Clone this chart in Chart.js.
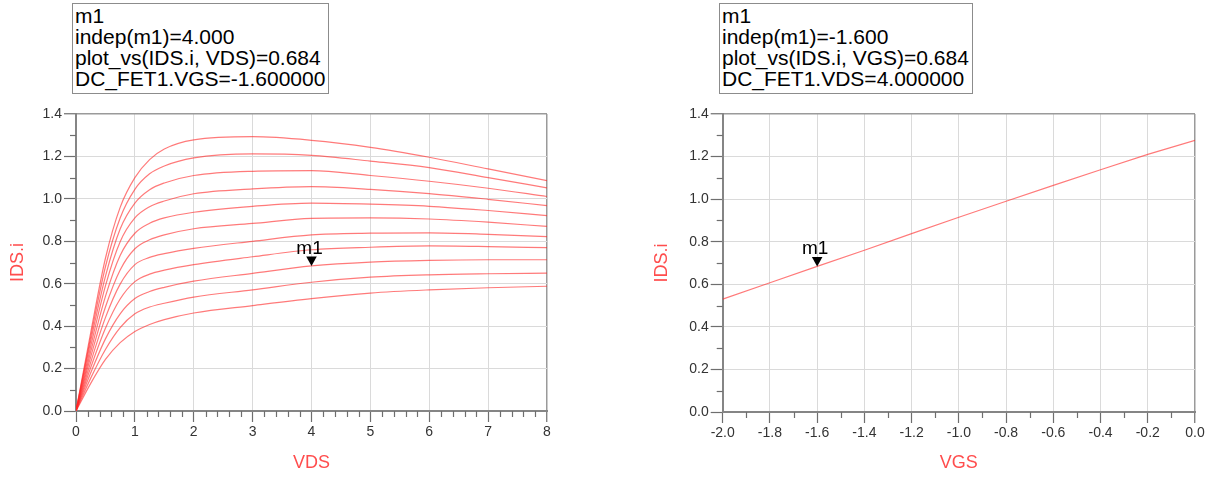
<!DOCTYPE html>
<html><head><meta charset="utf-8">
<script src="https://cdn.jsdelivr.net/npm/chart.js@4.4.0/dist/chart.umd.min.js"></script>
<style>
html,body{margin:0;padding:0;background:#fff;width:1207px;height:477px;overflow:hidden;}
.wrap{position:absolute;top:0;height:477px;}
#w1{left:0;width:600px;} #w2{left:600px;width:607px;}
.readout{position:absolute;top:3px;border:1px solid #8c8c8c;background:#fff;font:21px/21px "Liberation Sans",Arial,sans-serif;color:#000;padding:1px 3px 4px 2px;white-space:pre;z-index:2;}
</style></head>
<body>
<div class="wrap" id="w1"><canvas id="c1" width="600" height="477"></canvas></div>
<div class="wrap" id="w2"><canvas id="c2" width="607" height="477"></canvas></div>
<div class="readout" id="r1" style="left:72px"></div>
<div class="readout" id="r2" style="left:719px"></div>
<script>
// ---------- data ----------
const VDS = [0, 0.25, 0.5, 0.75, 1, 1.25, 1.5, 2, 3, 4, 5, 6, 7, 8];
const VGS_LIST = [-2.0, -1.8, -1.6, -1.4, -1.2, -1.0, -0.8, -0.6, -0.4, -0.2, 0.0];
const IDS_VGS_m2_0 = [0, 0.130, 0.243, 0.322, 0.375, 0.408, 0.431, 0.462, 0.497, 0.530, 0.556, 0.571, 0.581, 0.588];
const IDS_VGS_m1_8 = [0, 0.155, 0.290, 0.393, 0.458, 0.490, 0.508, 0.537, 0.571, 0.607, 0.631, 0.642, 0.647, 0.650];
const IDS_VGS_m1_6 = [0, 0.180, 0.340, 0.458, 0.530, 0.563, 0.583, 0.612, 0.649, 0.684, 0.702, 0.710, 0.713, 0.713];
const IDS_VGS_m1_4 = [0, 0.205, 0.390, 0.528, 0.610, 0.645, 0.664, 0.690, 0.727, 0.760, 0.772, 0.778, 0.775, 0.770];
const IDS_VGS_m1_2 = [0, 0.230, 0.440, 0.598, 0.690, 0.724, 0.742, 0.767, 0.800, 0.830, 0.838, 0.840, 0.833, 0.822];
const IDS_VGS_m1_0 = [0, 0.255, 0.490, 0.665, 0.765, 0.807, 0.830, 0.859, 0.884, 0.908, 0.910, 0.905, 0.890, 0.870];
const IDS_VGS_m0_8 = [0, 0.280, 0.540, 0.733, 0.838, 0.885, 0.910, 0.937, 0.965, 0.980, 0.975, 0.965, 0.945, 0.921];
const IDS_VGS_m0_6 = [0, 0.305, 0.590, 0.798, 0.910, 0.963, 0.990, 1.024, 1.047, 1.058, 1.045, 1.025, 0.998, 0.968];
const IDS_VGS_m0_4 = [0, 0.330, 0.635, 0.858, 0.980, 1.043, 1.075, 1.110, 1.130, 1.133, 1.110, 1.083, 1.050, 1.011];
const IDS_VGS_m0_2 = [0, 0.350, 0.680, 0.910, 1.045, 1.118, 1.155, 1.193, 1.212, 1.205, 1.178, 1.147, 1.100, 1.052];
const IDS_VGS_0_0  = [0, 0.370, 0.720, 0.960, 1.100, 1.185, 1.235, 1.278, 1.293, 1.276, 1.243, 1.196, 1.141, 1.086];
const LEFT_CURVES = [IDS_VGS_m2_0, IDS_VGS_m1_8, IDS_VGS_m1_6, IDS_VGS_m1_4, IDS_VGS_m1_2, IDS_VGS_m1_0,
                     IDS_VGS_m0_8, IDS_VGS_m0_6, IDS_VGS_m0_4, IDS_VGS_m0_2, IDS_VGS_0_0];

// right chart: IDS vs VGS at VDS = 4
const VGS_SWEEP = [-2.0, -1.8, -1.6, -1.4, -1.2, -1.0, -0.8, -0.6, -0.4, -0.2, 0.0];
const IDS_AT_VDS4 = [0.530, 0.607, 0.684, 0.760, 0.838, 0.915, 0.990, 1.065, 1.138, 1.210, 1.276];

// marker m1
const M1_LEFT = { x: 4.0, y: 0.684 };
const M1_RIGHT = { x: -1.6, y: 0.684 };
const READOUT_LEFT = ['m1', 'indep(m1)=4.000', 'plot_vs(IDS.i, VDS)=0.684', 'DC_FET1.VGS=-1.600000'];
const READOUT_RIGHT = ['m1', 'indep(m1)=-1.600', 'plot_vs(IDS.i, VGS)=0.684', 'DC_FET1.VDS=4.000000'];

// axis ranges
const Y_RANGE = { min: 0, max: 1.4, major: 0.2, minor: 0.1 };
const X_LEFT = { min: 0, max: 8, major: 1, minor: 0.2 };
const X_RIGHT = { min: -2, max: 0, major: 0.2, minor: 0.1 };

// ---------- styles ----------
const LINE_COLOR = 'rgba(255,40,40,0.62)';
const TITLE_COLOR = '#ff4d4d';
const AXIS_COLOR = '#858585';
const TICK_COLOR = '#6e6e6e';
const GRID_COLOR = '#dadada';
const LABEL_COLOR = '#333333';
const FONT = '"Liberation Sans", Arial, sans-serif';
Chart.defaults.font.family = FONT;

document.getElementById('r1').textContent = READOUT_LEFT.join('\n');
document.getElementById('r2').textContent = READOUT_RIGHT.join('\n');

const minorTicks = {
  id: 'minorTicks',
  afterDraw(chart, args, o) {
    const ctx = chart.ctx, xs = chart.scales.x, ys = chart.scales.y, a = chart.chartArea;
    ctx.save();
    ctx.strokeStyle = TICK_COLOR; ctx.lineWidth = 1.2;
    const isMajor = (v, min, maj) => { const r = (v - min) / maj; return Math.abs(r - Math.round(r)) < 1e-6; };
    const nx = Math.round((o.x.max - o.x.min) / o.x.minor);
    for (let i = 0; i <= nx; i++) {
      const v = o.x.min + i * o.x.minor;
      if (isMajor(v, o.x.min, o.x.major)) continue;
      const px = Math.round(xs.getPixelForValue(v)) + 0.5;
      ctx.beginPath(); ctx.moveTo(px, a.bottom); ctx.lineTo(px, a.bottom + 6); ctx.stroke();
    }
    const ny = Math.round((o.y.max - o.y.min) / o.y.minor);
    for (let i = 0; i <= ny; i++) {
      const v = o.y.min + i * o.y.minor;
      if (isMajor(v, o.y.min, o.y.major)) continue;
      const py = Math.round(ys.getPixelForValue(v)) + 0.5;
      ctx.beginPath(); ctx.moveTo(a.left - 6, py); ctx.lineTo(a.left, py); ctx.stroke();
    }
    ctx.restore();
  }
};

const markerPlugin = {
  id: 'marker',
  afterDatasetsDraw(chart, args, o) {
    const ctx = chart.ctx;
    const px = chart.scales.x.getPixelForValue(o.x);
    const py = chart.scales.y.getPixelForValue(o.y);
    ctx.save();
    ctx.fillStyle = '#000';
    ctx.beginPath();
    ctx.moveTo(px, py);
    ctx.lineTo(px - 5.3, py - 9.5);
    ctx.lineTo(px + 5.3, py - 9.5);
    ctx.closePath(); ctx.fill();
    ctx.font = '19px ' + FONT;
    ctx.textAlign = 'center'; ctx.textBaseline = 'alphabetic';
    ctx.fillText(o.label, px - 2, py - 12);
    ctx.restore();
  }
};

function gridOpts(maxVal) {
  return {
    color: c => (c.tick && Math.abs(c.tick.value - maxVal) < 1e-6 ? '#9a9a9a' : GRID_COLOR),
    lineWidth: c => (c.tick && Math.abs(c.tick.value - maxVal) < 1e-6 ? 1.5 : 1),
    tickColor: TICK_COLOR, tickLength: 12, tickWidth: 1.2, drawTicks: true
  };
}
const fmt1 = v => (Math.abs(v) < 1e-9 ? '0.0' : v.toFixed(1));

function makeChart(id, datasets, xr, xTitle, xFmt, padLeft, padRight, yWidth, xHeight, marker) {
  return new Chart(document.getElementById(id), {
    type: 'line',
    data: { datasets },
    options: {
      responsive: false, animation: false,
      layout: { padding: { left: padLeft, top: 114, right: padRight, bottom: 0 } },
      plugins: { legend: { display: false }, tooltip: { enabled: false },
        minorTicks: { x: xr, y: Y_RANGE }, marker },
      elements: { point: { radius: 0 }, line: { borderWidth: 1.2, borderColor: LINE_COLOR, cubicInterpolationMode: 'monotone' } },
      scales: {
        x: {
          type: 'linear', min: xr.min, max: xr.max,
          ticks: { stepSize: xr.major, color: LABEL_COLOR, font: { size: 14 }, padding: 2, maxRotation: 0, autoSkip: false, callback: xFmt },
          grid: Object.assign(gridOpts(xr.max), { tickLength: 11 }),
          border: { display: true, color: AXIS_COLOR, width: 2 },
          title: { display: true, text: xTitle, color: TITLE_COLOR, font: { size: 18 }, padding: { top: 0, bottom: 3 } },
          afterFit: s => { s.height = xHeight; }
        },
        y: {
          type: 'linear', min: Y_RANGE.min, max: Y_RANGE.max,
          ticks: { stepSize: Y_RANGE.major, color: LABEL_COLOR, font: { size: 14 }, padding: 2, autoSkip: false, callback: fmt1 },
          grid: gridOpts(Y_RANGE.max),
          border: { display: true, color: AXIS_COLOR, width: 2 },
          title: { display: true, text: 'IDS.i', color: TITLE_COLOR, font: { size: 18 }, padding: { top: 7, bottom: 0 } },
          afterFit: s => { s.width = yWidth; }
        }
      }
    },
    plugins: [minorTicks, markerPlugin]
  });
}

const leftSets = LEFT_CURVES.map((ids, k) => ({
  label: 'VGS=' + VGS_LIST[k].toFixed(1),
  data: VDS.map((v, i) => ({ x: v, y: ids[i] })),
  borderColor: LINE_COLOR, borderWidth: 1.2, pointRadius: 0, fill: false
}));
makeChart('c1', leftSets, X_LEFT, 'VDS', v => String(Math.round(v)), 0, 53, 76, 66,
  { x: M1_LEFT.x, y: M1_LEFT.y, label: 'm1' });

const rightSets = [{
  label: 'IDS.i',
  data: VGS_SWEEP.map((v, i) => ({ x: v, y: IDS_AT_VDS4[i] })),
  borderColor: LINE_COLOR, borderWidth: 1.2, pointRadius: 0, fill: false, cubicInterpolationMode: 'default', tension: 0
}];
makeChart('c2', rightSets, X_RIGHT, 'VGS', fmt1, 44, 12, 78.7, 65,
  { x: M1_RIGHT.x, y: M1_RIGHT.y, label: 'm1' });
</script>
</body></html>
